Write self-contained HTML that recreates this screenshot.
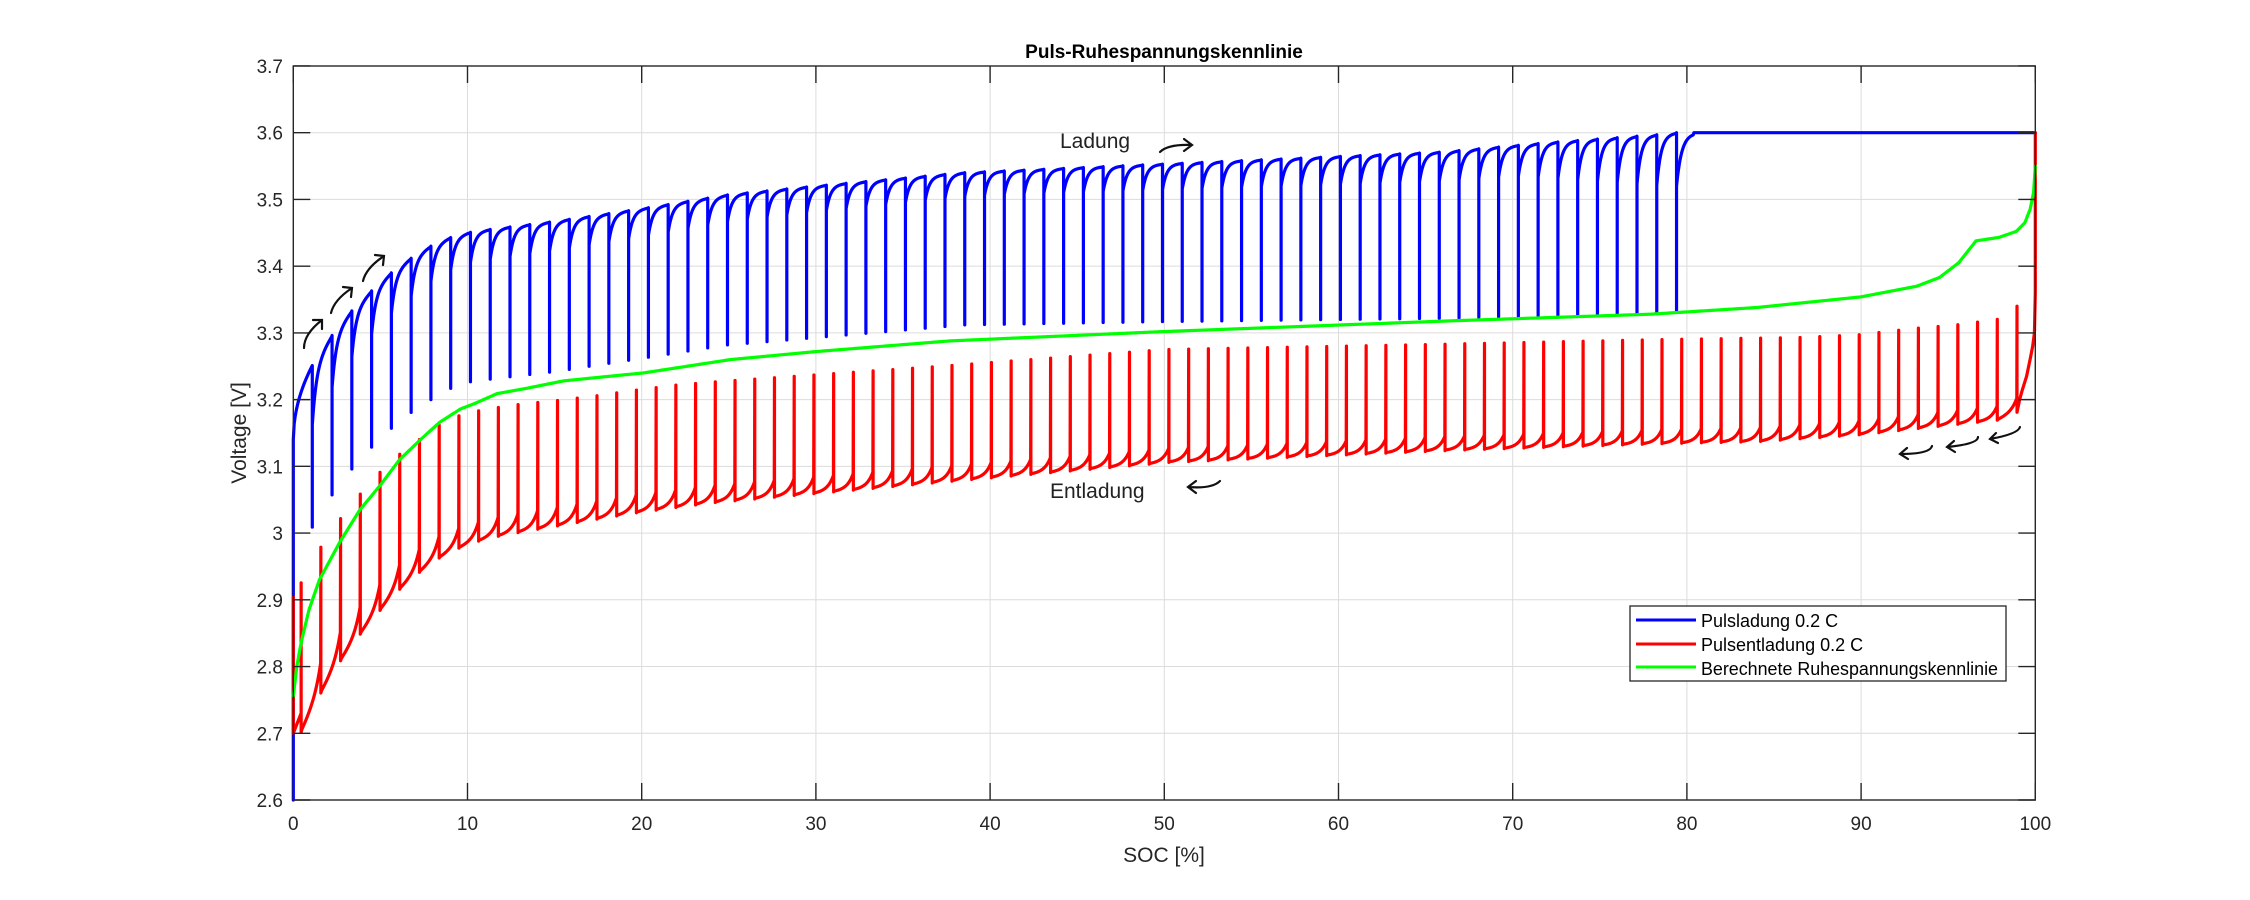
<!DOCTYPE html>
<html><head><meta charset="utf-8"><style>
html,body{margin:0;padding:0;background:#fff;}
svg{display:block;font-family:"Liberation Sans",Arial,sans-serif;}
</style></head><body>
<svg id="s" width="2250" height="900" viewBox="0 0 2250 900" xmlns="http://www.w3.org/2000/svg">
<rect width="2250" height="900" fill="#fff"/>
<g id="grid" stroke="#dcdcdc" stroke-width="1"></g>
<g id="data" fill="none" stroke-linejoin="round" stroke-linecap="round"></g>
<g id="axes"></g>
<text x="1164" y="58" text-anchor="middle" font-size="19" font-weight="bold" fill="#000">Puls-Ruhespannungskennlinie</text>
<text x="1164" y="862" text-anchor="middle" font-size="21" fill="#262626">SOC [%]</text>
<text transform="translate(246,433) rotate(-90)" text-anchor="middle" font-size="21" fill="#262626">Voltage [V]</text>
<text x="1060" y="148" font-size="21" fill="#222">Ladung</text>
<text x="1050" y="498" font-size="21" fill="#222">Entladung</text>
<g fill="none" stroke="#111" stroke-width="2.2" stroke-linecap="round">
<path d="M1160,152 Q1168,144 1192,145 M1184,139 L1192,145 L1184,151"/>
<path d="M1220,481 Q1212,489 1188,487 M1196,481 L1188,487 L1196,493"/>
<path d="M304,348 Q304,334 322,320 M313,320 L322,320 L322,329"/>
<path d="M331,313 Q334,300 352,288 M343,287 L352,288 L351,297"/>
<path d="M363,281 Q366,268 384,256 M375,255 L384,256 L383,265"/>
<path d="M1932,446 Q1930,454 1900,454 M1907,448 L1900,454 L1908,459"/>
<path d="M1978,437 Q1978,444 1947,447 M1954,441 L1947,447 L1955,452"/>
<path d="M2020,427 Q2018,434 1990,439 M1996,433 L1990,439 L1998,443"/>
</g>
<rect x="1630" y="606" width="376" height="75" fill="#fff" stroke="#262626" stroke-width="1.3"/>
<line x1="1636" y1="620" x2="1696" y2="620" stroke="#0000ff" stroke-width="3"/>
<line x1="1636" y1="644" x2="1696" y2="644" stroke="#ff0000" stroke-width="3"/>
<line x1="1636" y1="667" x2="1696" y2="667" stroke="#00ff00" stroke-width="3"/>
<text x="1701" y="627" font-size="18" fill="#000">Pulsladung 0.2 C</text>
<text x="1701" y="651" font-size="18" fill="#000">Pulsentladung 0.2 C</text>
<text x="1701" y="675" font-size="18" fill="#000" textLength="297" lengthAdjust="spacingAndGlyphs">Berechnete Ruhespannungskennlinie</text>
</svg>
<script>
(function(){
var NS="http://www.w3.org/2000/svg";
var L=293.3,R=2035.3,T=66,B=800;
function X(s){return L+s*17.42;}
function Y(v){return B-(v-2.6)*667.3;}
function interp(p,s){if(s<=p[0][0])return p[0][1];for(var i=1;i<p.length;i++){if(s<=p[i][0]){var a=p[i-1],b=p[i];return a[1]+(b[1]-a[1])*(s-a[0])/(b[0]-a[0]);}}return p[p.length-1][1];}
function el(g,tag,attrs,txt){var e=document.createElementNS(NS,tag);for(var k in attrs)e.setAttribute(k,attrs[k]);if(txt!==undefined)e.textContent=txt;document.getElementById(g).appendChild(e);return e;}
for(var i=1;i<10;i++){var x=X(i*10);el("grid","line",{x1:x,y1:T,x2:x,y2:B});}
for(var i=1;i<11;i++){var y=Y(2.6+i*0.1);el("grid","line",{x1:L,y1:y,x2:R,y2:y});}
var d=[];function P(s,v){d.push(X(s).toFixed(2)+","+Y(v).toFixed(2));}
var bp=[[1.09,3.251],[2.22,3.296],[3.36,3.333],[4.5,3.363],[5.63,3.39],[6.77,3.412],[7.9,3.43],[9.04,3.443],[10.2,3.451],[11.3,3.455],[15,3.467],[20,3.486],[25,3.507],[30,3.52],[38.5,3.54],[50,3.553],[66,3.571],[72,3.585],[78.3,3.597],[79.4,3.6]];
var bb=[[1.09,3.009],[2.22,3.057],[3.36,3.096],[4.5,3.129],[5.63,3.157],[6.77,3.181],[7.9,3.2],[9.04,3.217],[10.2,3.227],[12,3.233],[15,3.242],[20,3.262],[24.9,3.282],[30,3.293],[38.5,3.312],[50,3.317],[66,3.322],[79.5,3.331]];
var bd=[[1,0.09],[3,0.07],[10,0.045],[40,0.035],[70,0.045],[79.4,0.08]];
P(0,2.6);P(0,3.14);
for(var s=0.05;s<1.09;s+=0.05)P(s,3.14+0.111*Math.sqrt(s/1.09));
for(var k=0;k<70;k++){var sk=1.09+k*1.135,pk=interp(bp,sk),dl=interp(bd,sk);
 P(sk,pk);P(sk,interp(bb,sk));P(sk,pk-dl);
 if(k<69){for(var s=sk+0.04;s<=sk+1.135+1e-6;s+=0.04)P(s,interp(bp,s)-dl*Math.exp(-(s-sk)/0.25));}
 else{for(var s=sk+0.04;s<=80.4;s+=0.04)P(s,3.6-dl*Math.exp(-(s-sk)/0.3));P(80.4,3.6);P(100,3.6);}
}
el("data","path",{d:"M"+d.join(" L"),stroke:"#0000ff","stroke-width":3.2});
d=[];
var rb=[[0.45,2.7015],[1.55,2.759],[2.68,2.8075],[3.83,2.848],[4.94,2.883],[6.03,2.914],[7.18,2.94],[8.29,2.9615],[9.41,2.9765],[10.58,2.9875],[11.71,2.995],[12.86,3.0005],[15.1,3.0105],[17.35,3.0205],[19.6,3.03],[21.85,3.038],[24.1,3.0455],[38.8,3.08],[50.3,3.106],[66.5,3.124],[78.5,3.134],[84,3.137],[89.8,3.147],[95.5,3.163],[97.8,3.169],[98.95,3.181]];
var rt=[[0.45,2.9255],[1.55,2.9775],[2.68,3.0205],[3.83,3.058],[4.94,3.09],[6.03,3.1165],[7.18,3.139],[8.29,3.1605],[9.41,3.175],[10.58,3.183],[11.71,3.188],[12.86,3.1925],[15.1,3.1985],[17.35,3.2055],[19.6,3.214],[21.85,3.2215],[24.1,3.2265],[37.7,3.251],[50,3.275],[66,3.283],[78.5,3.29],[86.4,3.293],[89.8,3.297],[93.2,3.307],[95.5,3.312],[97.8,3.32],[98.95,3.34]];
var rd=[[0,0.05],[10,0.03],[50,0.022],[99,0.022]];
var sp=98.5/87;
P(0,2.904);P(0,2.70);P(0.45,2.73);
for(var j=0;j<88;j++){var sj=0.45+j*sp,bj=interp(rb,sj);
 P(sj,interp(rt,sj));P(sj,bj);
 if(j<87){var sn=sj+sp,dl=interp(rd,sn);for(var s=sj+0.04;s<=sn+1e-6;s+=0.04)P(s,interp(rb,s)+dl*Math.exp(-(sn-s)/0.35));}
 else{var pts=[[99.1,3.2],[99.26,3.215],[99.5,3.235],[99.7,3.26],[99.85,3.28],[99.95,3.30],[100,3.36],[100,3.6]];pts.forEach(function(q){P(q[0],q[1]);});}
}
el("data","path",{d:"M"+d.join(" L"),stroke:"#ff0000","stroke-width":3.2});
d=[];
var g=[[0,2.756],[0.2,2.8],[0.45,2.836],[0.9,2.885],[1.5,2.93],[2.66,2.986],[3.8,3.034],[5,3.072],[6.1,3.11],[7.3,3.14],[8.4,3.166],[9.6,3.186],[10.4,3.194],[11.7,3.209],[13.4,3.217],[15.5,3.228],[17,3.232],[20.1,3.24],[25.1,3.26],[30,3.272],[37.7,3.288],[50,3.302],[66.4,3.318],[77.9,3.328],[84,3.338],[90,3.354],[93.2,3.37],[94.5,3.383],[95.6,3.405],[96.6,3.438],[97.9,3.443],[98.9,3.452],[99.4,3.465],[99.7,3.485],[99.9,3.51],[100,3.55]];
for(var s=0;s<=100.0001;s+=0.1)P(s,interp(g,s));
el("data","path",{d:"M"+d.join(" L"),stroke:"#00ff00","stroke-width":3.2});
el("axes","rect",{x:L,y:T,width:R-L,height:B-T,fill:"none",stroke:"#262626","stroke-width":1.4});
for(var i=0;i<=10;i++){var x=X(i*10);
 el("axes","line",{x1:x,y1:B,x2:x,y2:B-17,stroke:"#262626","stroke-width":1.4});
 el("axes","line",{x1:x,y1:T,x2:x,y2:T+17,stroke:"#262626","stroke-width":1.4});
 el("axes","text",{x:x,y:830,"text-anchor":"middle","font-size":19,fill:"#262626"},String(i*10));}
for(var i=0;i<=11;i++){var v=2.6+i*0.1,y=Y(v);
 el("axes","line",{x1:L,y1:y,x2:L+17,y2:y,stroke:"#262626","stroke-width":1.4});
 el("axes","line",{x1:R,y1:y,x2:R-17,y2:y,stroke:"#262626","stroke-width":1.4});
 var t=(Math.round(v*10)/10).toString();
 el("axes","text",{x:283,y:y+7,"text-anchor":"end","font-size":19,fill:"#262626"},t);}
})();
</script>
</body></html>
